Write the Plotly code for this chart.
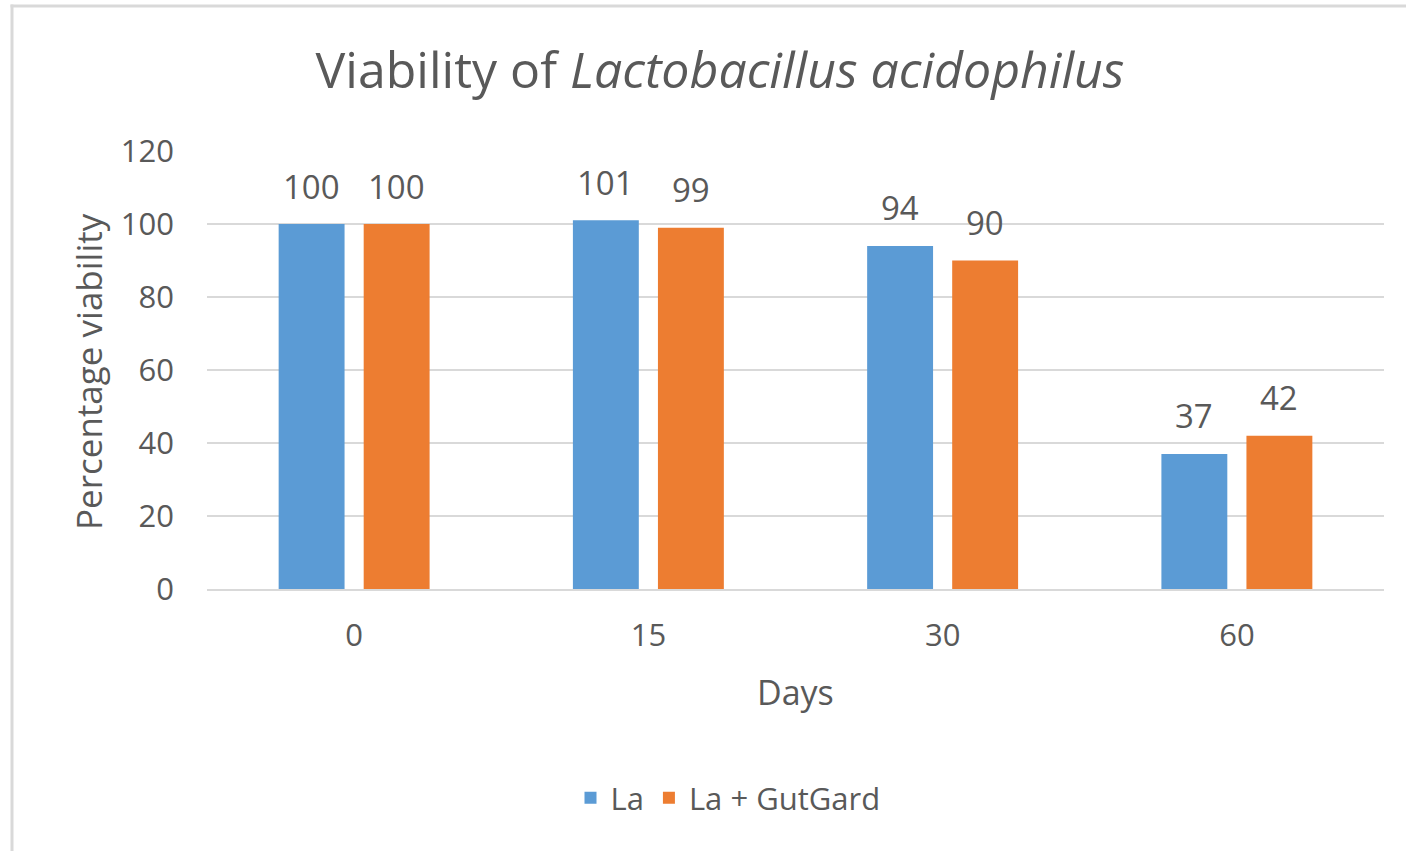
import plotly.graph_objects as go

days = ["0", "15", "30", "60"]
la = [100, 101, 94, 37]
la_gutgard = [100, 99, 90, 42]
series_names = ["La", "La + GutGard"]
y_ticks = [0, 20, 40, 60, 80, 100, 120]

BLUE = "#5B9BD5"
ORANGE = "#ED7D31"
TXT = "#595959"
GRID = "#D9D9D9"
FONT = "Open Sans, Noto Sans, sans-serif"

W, H = 1406, 851
# plot area in screen pixels: x 207..1384, y 151..589
L = 207
R = W - 1384
T = 151
B = H - 589
pw, ph = W - L - R, H - T - B


def px(sx):
    return (sx - L) / pw


def py(sy):
    return (H - B - sy) / ph


fig = go.Figure()
fig.add_trace(go.Bar(x=days, y=la, name=series_names[0], marker=dict(color=BLUE, line=dict(width=0))))
fig.add_trace(go.Bar(x=days, y=la_gutgard, name=series_names[1], marker=dict(color=ORANGE, line=dict(width=0))))

ann = []
for i, v in enumerate(la):
    ann.append(dict(x=i, y=v, text=f"{v:g}", showarrow=False, xshift=-42.5, yshift=38,
                    yanchor="middle", font=dict(size=33, color=TXT, family=FONT)))
for i, v in enumerate(la_gutgard):
    ann.append(dict(x=i, y=v, text=f"{v:g}", showarrow=False, xshift=42.5, yshift=38,
                    yanchor="middle", font=dict(size=33, color=TXT, family=FONT)))
ann.append(dict(xref="paper", yref="paper", x=px(795), y=py(692),
                text="Days", showarrow=False, xanchor="center", yanchor="middle",
                font=dict(size=34, color=TXT, family=FONT)))
ann.append(dict(xref="paper", yref="paper", x=px(88), y=py(371),
                text="Percentage viability", textangle=-90, showarrow=False,
                xanchor="center", yanchor="middle",
                font=dict(size=35, color=TXT, family=FONT)))

# chart-area border: only left and top edges visible (cropped at right/bottom)
shapes = [
    dict(type="line", xref="paper", yref="paper", x0=px(12), x1=px(12), y0=py(860), y1=py(4.5),
         line=dict(color=GRID, width=3), layer="below"),
    dict(type="line", xref="paper", yref="paper", x0=px(10.5), x1=px(1415), y0=py(6), y1=py(6),
         line=dict(color=GRID, width=3), layer="below"),
]

fig.update_layout(
    width=W, height=H,
    margin=dict(l=L, r=R, t=T, b=B, autoexpand=False),
    paper_bgcolor="white", plot_bgcolor="white",
    font=dict(family=FONT, color=TXT, size=30),
    title=dict(text="Viability of <i>Lactobacillus acidophilus</i>",
               x=720 / W, xref="container", xanchor="center",
               y=1 - 70 / H, yref="container", yanchor="middle",
               font=dict(size=50, color=TXT, family=FONT)),
    barmode="group", bargap=0.422, bargroupgap=0.225,
    showlegend=True,
    legend=dict(orientation="h", x=728 / W, xref="container", xanchor="center",
                y=1 - 798 / H, yref="container", yanchor="middle",
                font=dict(size=31, color=TXT, family=FONT), bgcolor="rgba(0,0,0,0)"),
    annotations=ann,
    shapes=shapes,
)
fig.update_xaxes(type="category", range=[-0.5, 3.5], showgrid=False, showline=True,
                 linecolor=GRID, linewidth=2, ticks="", tickfont=dict(size=31, color=TXT),
                 ticklabelstandoff=18, zeroline=False)
fig.update_yaxes(range=[0, 120], tickvals=y_ticks, showgrid=True, gridcolor=GRID, gridwidth=2,
                 showline=False, zeroline=False, ticks="", tickfont=dict(size=31, color=TXT),
                 ticklabelstandoff=32)

fig.write_html("out.html", config={"displayModeBar": False},
               post_script="document.body.style.margin='0';document.body.style.overflow='hidden';")
